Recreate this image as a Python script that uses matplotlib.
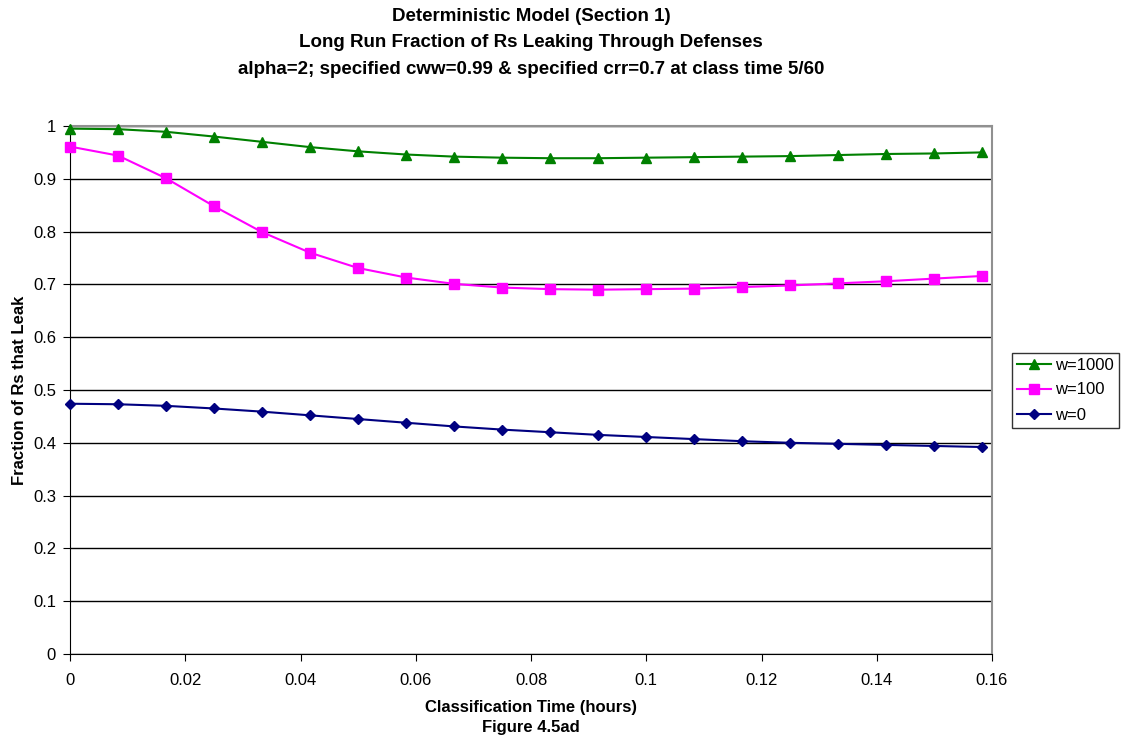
import numpy as np
import matplotlib.pyplot as plt

plt.rcParams['font.family'] = ['Liberation Sans', 'DejaVu Sans']

# classification time in hours: 0 .. 19/120
x = [i / 120 for i in range(20)]

w1000 = [0.995, 0.994, 0.989, 0.980, 0.970, 0.960, 0.952, 0.946, 0.942, 0.940,
         0.939, 0.939, 0.940, 0.941, 0.942, 0.943, 0.945, 0.947, 0.948, 0.950]
w100 = [0.961, 0.944, 0.901, 0.848, 0.799, 0.760, 0.731, 0.713, 0.701, 0.694,
        0.691, 0.690, 0.691, 0.692, 0.695, 0.698, 0.702, 0.706, 0.711, 0.716]
w0 = [0.474, 0.473, 0.470, 0.465, 0.459, 0.452, 0.445, 0.438, 0.431, 0.425,
      0.420, 0.415, 0.411, 0.407, 0.403, 0.400, 0.398, 0.396, 0.394, 0.392]

fig = plt.figure(figsize=(11.27, 7.42), dpi=100)
ax = fig.add_axes([70 / 1127, 1 - 654 / 742, 922 / 1127, 528 / 742])

ax.plot(x, w1000, '-^', color='#008000', ms=7, lw=1.5, label='w=1000', clip_on=False, zorder=3)
ax.plot(x, w100, '-s', color='#FF00FF', ms=7, lw=1.5, label='w=100', clip_on=False, zorder=3)
ax.plot(x, w0, '-D', color='#000080', ms=5, lw=1.5, label='w=0', clip_on=False, zorder=3)

ax.set_xlim(0, 0.16)
ax.set_ylim(0, 1)
ax.set_xticks(np.arange(0, 0.161, 0.02))
ax.set_xticklabels(['0', '0.02', '0.04', '0.06', '0.08', '0.1', '0.12', '0.14', '0.16'])
ax.set_yticks(np.arange(0, 1.01, 0.1))
ax.set_yticklabels(['0', '0.1', '0.2', '0.3', '0.4', '0.5', '0.6', '0.7', '0.8', '0.9', '1'])
ax.yaxis.grid(True, color='black', lw=1)
ax.set_axisbelow(True)
ax.tick_params(labelsize=12, length=5, direction='out')
ax.tick_params(axis='x', pad=9)
ax.tick_params(axis='y', pad=5)

for s in ['top', 'right']:
    ax.spines[s].set_color('#909090')
    ax.spines[s].set_linewidth(1.5)
for s in ['left', 'bottom']:
    ax.spines[s].set_color('black')

ax.set_ylabel('Fraction of Rs that Leak', fontsize=12, fontweight='bold', labelpad=4.5)
ax.set_xlabel('Classification Time (hours)\nFigure 4.5ad', fontsize=12,
              fontweight='bold', linespacing=1.45, labelpad=8)

fig.suptitle('Deterministic Model (Section 1)\n'
             'Long Run Fraction of Rs Leaking Through Defenses\n'
             'alpha=2; specified cww=0.99 & specified crr=0.7 at class time 5/60',
             x=(70 + 992) / 2 / 1127, y=1 - 8 / 742, fontsize=13.5, fontweight='bold',
             linespacing=1.72)

leg = ax.legend(loc='center left', bbox_to_anchor=(1.022, 0.5), fontsize=12,
                frameon=True, fancybox=False, edgecolor='black',
                handlelength=2.0, handletextpad=0.25, borderpad=0.3, labelspacing=0.6,
                borderaxespad=0)
leg.get_frame().set_linewidth(1)

fig.savefig('out.png', dpi=100)
